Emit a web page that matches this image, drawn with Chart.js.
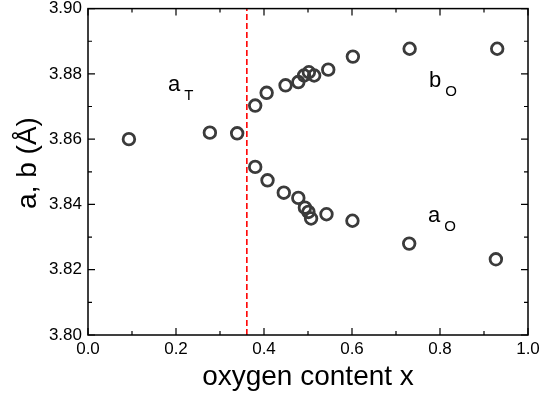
<!DOCTYPE html>
<html>
<head>
<meta charset="utf-8">
<script src="https://cdn.jsdelivr.net/npm/chart.js@4.4.1/dist/chart.umd.min.js"></script>
<style>
  html, body { margin: 0; padding: 0; background: #fff; }
  #wrap { width: 541px; height: 398px; }
</style>
</head>
<body>
<div id="wrap"><canvas id="latChart" width="541" height="398"></canvas></div>
<script>
// tetragonal phase a_T
var aTx = [0.093, 0.277, 0.339];
var aTy = [3.8600, 3.8620, 3.8618];
// orthorhombic b_O
var bOx = [0.380, 0.406, 0.449, 0.478, 0.491, 0.502, 0.514, 0.546, 0.602, 0.731, 0.930];
var bOy = [3.8703, 3.8742, 3.8765, 3.8775, 3.8795, 3.8805, 3.8795, 3.8813, 3.8853, 3.8877, 3.8877];
// orthorhombic a_O
var aOx = [0.380, 0.408, 0.445, 0.478, 0.493, 0.501, 0.507, 0.542, 0.601, 0.730, 0.927];
var aOy = [3.8515, 3.8474, 3.8436, 3.8420, 3.8390, 3.8377, 3.8357, 3.8370, 3.8350, 3.8280, 3.8232];
// T-O boundary
var boundaryX = 0.361;
var xTicks = [0, 0.2, 0.4, 0.6, 0.8, 1.0];
var yTicks = [3.80, 3.82, 3.84, 3.86, 3.88, 3.90];

function pts(xs, ys) {
    return xs.map(function (x, i) { return {x: x, y: ys[i]}; });
}

var FONT = "'Liberation Sans', Arial, sans-serif";
var markerStyle = {
    showLine: false,
    pointStyle: 'circle',
    pointRadius: 5.8,
    pointHoverRadius: 5.8,
    pointBorderWidth: 2.8,
    pointBorderColor: '#3b3b3b',
    pointBackgroundColor: 'rgba(0,0,0,0)'
};

// frame with inward major/minor ticks on all four sides, y title, phase labels
var framePlugin = {
    id: 'frame',
    afterDraw: function (chart) {
        var ctx = chart.ctx, a = chart.chartArea;
        var xs = chart.scales.x, ys = chart.scales.y;
        ctx.save();
        ctx.strokeStyle = '#000';
        ctx.lineWidth = 1.5;
        ctx.strokeRect(a.left, a.top, a.right - a.left, a.bottom - a.top);
        ctx.lineWidth = 1.2;
        ctx.beginPath();
        for (var i = 0; i <= 10; i++) {
            var px = xs.getPixelForValue(i / 10);
            var len = (i % 2 === 0) ? 7 : 4;
            ctx.moveTo(px, a.bottom); ctx.lineTo(px, a.bottom - len);
            ctx.moveTo(px, a.top); ctx.lineTo(px, a.top + len);
        }
        for (var j = 0; j <= 10; j++) {
            var py = ys.getPixelForValue(3.80 + j * 0.01);
            var len2 = (j % 2 === 0) ? 7 : 4;
            ctx.moveTo(a.left, py); ctx.lineTo(a.left + len2, py);
            ctx.moveTo(a.right, py); ctx.lineTo(a.right - len2, py);
        }
        ctx.stroke();

        // y axis title
        ctx.fillStyle = '#000';
        ctx.save();
        ctx.translate(28, 163);
        ctx.rotate(-Math.PI / 2);
        ctx.textAlign = 'center';
        ctx.textBaseline = 'middle';
        ctx.font = '28px ' + FONT;
        ctx.fillText('a, b (Å)', 0, 0);
        ctx.restore();

        var labels = [
            {main: 'a', sub: 'T', x: 0.182, y: 3.8749},
            {main: 'b', sub: 'O', x: 0.775, y: 3.8761},
            {main: 'a', sub: 'O', x: 0.773, y: 3.8346}
        ];
        ctx.textBaseline = 'alphabetic';
        ctx.textAlign = 'left';
        labels.forEach(function (l) {
            var lx = xs.getPixelForValue(l.x), ly = ys.getPixelForValue(l.y);
            ctx.font = '22px ' + FONT;
            ctx.fillText(l.main, lx, ly);
            var w = ctx.measureText(l.main).width;
            ctx.font = '15px ' + FONT;
            ctx.fillText(l.sub, lx + w + 4, ly + 9);
        });
        ctx.restore();
    }
};

var ctxLat = document.getElementById('latChart');
var latChart = new Chart(ctxLat, {
    type: 'scatter',
    data: {
        datasets: [
            {
                label: 'boundary',
                data: [{x: boundaryX, y: 3.80}, {x: boundaryX, y: 3.90}],
                showLine: true,
                borderColor: '#ff0000',
                borderWidth: 1.6,
                borderDash: [6, 3],
                pointRadius: 0,
                pointHoverRadius: 0
            },
            Object.assign({label: 'aT', data: pts(aTx, aTy)}, markerStyle),
            Object.assign({label: 'bO', data: pts(bOx, bOy)}, markerStyle),
            Object.assign({label: 'aO', data: pts(aOx, aOy)}, markerStyle)
        ]
    },
    options: {
        responsive: false,
        animation: false,
        events: [],
        layout: { padding: {left: 0, top: 8, right: 13, bottom: 0} },
        plugins: {
            legend: { display: false },
            tooltip: { enabled: false }
        },
        scales: {
            x: {
                type: 'linear',
                min: 0,
                max: 1,
                afterFit: function (s) {
                    s.height = 63;
                    s.paddingLeft = 0;
                    s.paddingRight = 0;
                },
                afterBuildTicks: function (s) {
                    s.ticks = xTicks.map(function (v) { return {value: v}; });
                },
                grid: { display: false, drawTicks: false },
                border: { display: false },
                ticks: {
                    padding: 4,
                    color: '#000',
                    font: { family: FONT, size: 17 },
                    maxRotation: 0,
                    callback: function (v) { return v.toFixed(1); }
                },
                title: {
                    display: true,
                    text: 'oxygen content x',
                    color: '#000',
                    font: { family: FONT, size: 28 },
                    padding: { top: 0, bottom: 4 }
                }
            },
            y: {
                type: 'linear',
                min: 3.80,
                max: 3.90,
                afterFit: function (s) {
                    s.width = 88;
                    s.paddingTop = 0;
                    s.paddingBottom = 0;
                },
                afterBuildTicks: function (s) {
                    s.ticks = yTicks.map(function (v) { return {value: v}; });
                },
                grid: { display: false, drawTicks: false },
                border: { display: false },
                ticks: {
                    padding: 6,
                    color: '#000',
                    font: { family: FONT, size: 17 },
                    callback: function (v) { return v.toFixed(2); }
                }
            }
        }
    },
    plugins: [framePlugin]
});
</script>
</body>
</html>
